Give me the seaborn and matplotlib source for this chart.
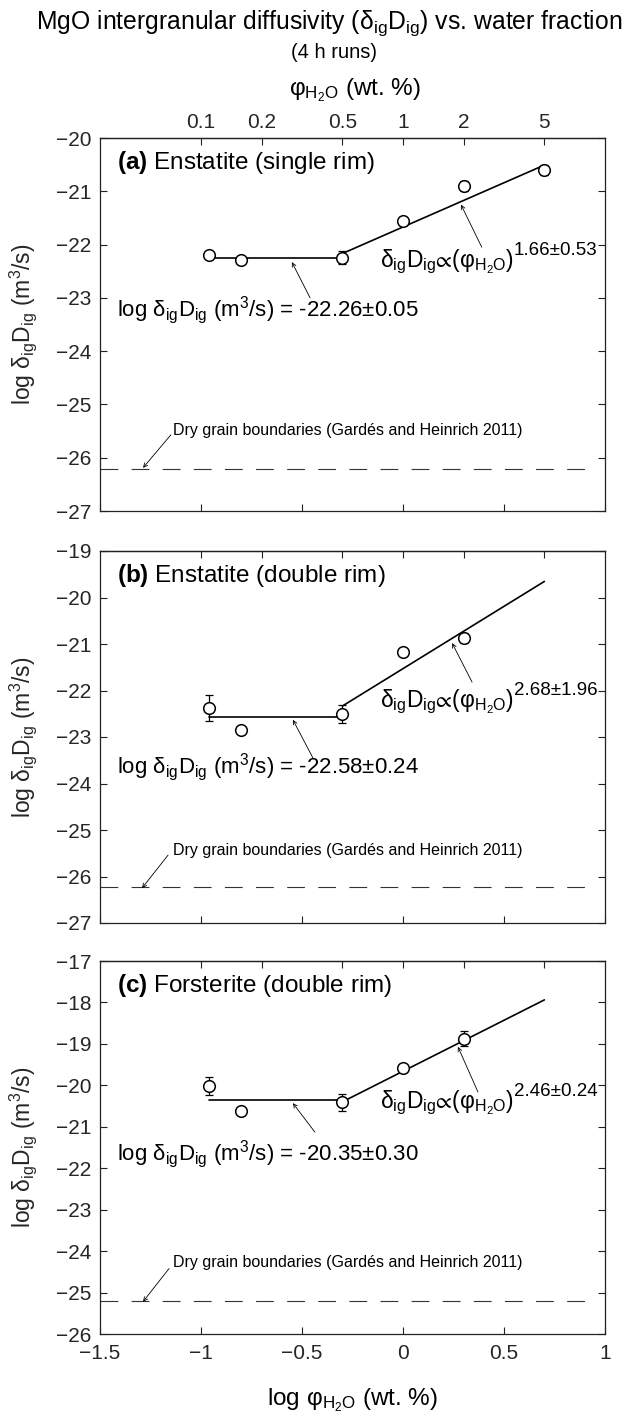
import numpy as np
import pandas as pd
import matplotlib
matplotlib.use("Agg")
import matplotlib.pyplot as plt
import seaborn as sns

# ---------------- data ----------------
phi_log = [-0.96, -0.80, -0.30, 0.00, 0.30, 0.70]          # log wt.% H2O
ens_single = [-22.20, -22.29, -22.25, -21.56, -20.90, -20.60]
ens_single_err = [0.03, 0.03, 0.12, 0.08, 0.10, 0.10]
ens_double = [-22.38, -22.85, -22.51, -21.17, -20.87]
ens_double_err = [0.28, 0.03, 0.19, 0.03, 0.10]
fo_double = [-20.02, -20.62, -20.41, -19.58, -18.88]
fo_double_err = [0.21, 0.03, 0.21, 0.03, 0.18]

plateau = [-22.26, -22.58, -20.35]
plateau_err = ["0.05", "0.24", "0.30"]
plateau_range = [-0.96, -0.30]
slope = ["1.66", "2.68", "2.46"]
slope_val = [1.66, 2.68, 2.46]
slope_err = ["0.53", "1.96", "0.24"]
power_intercept = [-21.67, -21.53, -19.66]
power_range = [-0.30, 0.70]
dry_gb = [-26.22, -26.22, -25.20]

panel_letters = ["(a)", "(b)", "(c)"]
panel_names = ["Enstatite (single rim)", "Enstatite (double rim)", "Forsterite (double rim)"]
y_limits = [(-27, -20), (-27, -19), (-26, -17)]
x_ticks = [-1.5, -1.0, -0.5, 0.0, 0.5, 1.0]
x_tick_labels = ["\u22121.5", "\u22121", "\u22120.5", "0", "0.5", "1"]
top_tick_values = [0.1, 0.2, 0.5, 1, 2, 5]
top_tick_labels = ["0.1", "0.2", "0.5", "1", "2", "5"]

# annotation placement (data coords): (tip, tail)
plateau_arrow = [((-0.55, -22.33), (-0.46, -23.0)),
                 ((-0.545, -22.63), (-0.446, -23.45)),
                 ((-0.545, -20.43), (-0.436, -21.13))]
power_arrow = [((0.287, -21.25), (0.39, -22.05)),
               ((0.243, -20.98), (0.342, -21.82)),
               ((0.272, -19.07), (0.371, -20.16))]
dry_arrow = [((-1.287, -26.19), (-1.149, -25.57)),
             ((-1.292, -26.25), (-1.163, -25.54)),
             ((-1.287, -25.22), (-1.158, -24.42))]
plateau_text_y = [0.523, 0.403, 0.466]
power_text_y = [0.654, 0.581, 0.606]
dry_text_y = [0.217, 0.196, 0.193]

# ---------------- style ----------------
sns.set_theme(style="ticks")
plt.rcParams["font.family"] = ["Liberation Sans", "DejaVu Sans"]
plt.rcParams["mathtext.fontset"] = "custom"
plt.rcParams["mathtext.rm"] = "Liberation Sans"
plt.rcParams["mathtext.it"] = "Liberation Sans:italic"
plt.rcParams["mathtext.bf"] = "Liberation Sans:bold"
plt.rcParams["mathtext.fallback"] = "stixsans"
plt.rcParams["axes.edgecolor"] = "#222222"
plt.rcParams["axes.linewidth"] = 0.9
plt.rcParams["text.color"] = "black"

W, H = 627, 1416
fig = plt.figure(figsize=(W / 100, H / 100), dpi=100)

left = 100 / W
width = 505 / W
tops = [138, 551, 961]
bots = [511, 923, 1334]

series = [(phi_log, ens_single, ens_single_err),
          (phi_log[:5], ens_double, ens_double_err),
          (phi_log[:5], fo_double, fo_double_err)]

DIG = r"$\mathrm{\delta_{ig}D_{ig}}$"
PHI = r"$\mathrm{φ_{H_2O}}$"
TICK = 15

for i in range(3):
    ax = fig.add_axes([left, 1 - bots[i] / H, width, (bots[i] - tops[i]) / H])
    xs, ys, es = series[i]
    df = pd.DataFrame({"x": xs, "y": ys})

    # fit lines
    pl = pd.DataFrame({"x": plateau_range, "y": [plateau[i], plateau[i]]})
    sns.lineplot(data=pl, x="x", y="y", ax=ax, color="black", lw=1.2,
                 estimator=None, sort=False, zorder=1)
    pw_x = np.array(power_range)
    pw = pd.DataFrame({"x": pw_x, "y": power_intercept[i] + slope_val[i] * pw_x})
    sns.lineplot(data=pw, x="x", y="y", ax=ax, color="black", lw=1.2,
                 estimator=None, sort=False, zorder=1)

    ax.errorbar(xs, ys, yerr=es, fmt="none", ecolor="black", elinewidth=0.9,
                capsize=3.0, capthick=0.9, zorder=2)
    sns.scatterplot(data=df, x="x", y="y", ax=ax, marker="o", s=70,
                    facecolor="white", edgecolor="black", linewidth=1.1, zorder=3)

    ax.axhline(dry_gb[i], xmin=0, xmax=0.985, color="#333333", lw=0.8,
               ls=(0, (16, 12)), zorder=1)

    ax.set_xlim(-1.5, 1.0)
    ax.set_ylim(*y_limits[i])
    ax.set_xticks(x_ticks)
    ax.set_yticks(np.arange(y_limits[i][0], y_limits[i][1] + 1))
    ax.set_xticklabels(x_tick_labels)
    ax.tick_params(direction="in", length=5, width=0.8, labelsize=TICK,
                   right=True, top=False, color="#222222")
    ax.tick_params(axis="y", pad=6)
    ax.tick_params(axis="x", pad=7)
    if i < 2:
        ax.tick_params(labelbottom=False)
    ax.set_xlabel("")
    ax.set_ylabel("log " + DIG + r" (m$^{3}$/s)", fontsize=16.5)
    ax.yaxis.set_label_coords(-0.12, 0.5)

    sec = ax.secondary_xaxis("top")
    sec.set_xticks(np.log10(top_tick_values))
    sec.set_xticklabels(top_tick_labels if i == 0 else [])
    sec.tick_params(direction="in", length=5, width=0.8, labelsize=TICK, pad=4,
                    color="#222222")
    sec.spines["top"].set_linewidth(0.9)

    # texts
    ax.text(0.034, 0.935, r"$\mathbf{" + panel_letters[i] + "}$ " + panel_names[i],
            transform=ax.transAxes, fontsize=17.5, va="center", ha="left")
    ax.text(0.034, plateau_text_y[i],
            "log " + DIG + r" (m$^{3}$/s) = " + f"{plateau[i]:.2f}\u00b1{plateau_err[i]}",
            transform=ax.transAxes, fontsize=16, va="baseline", ha="left")
    main = ax.text(0.554, power_text_y[i],
                   r"$\mathrm{\delta_{ig}D_{ig}}$" + r"$\mathrm{∝}$(" + PHI + ")",
                   transform=ax.transAxes, fontsize=16.5, va="baseline", ha="left")
    ax.annotate(slope[i] + "\u00b1" + slope_err[i], xy=(1.0, 0.58), xycoords=main,
                fontsize=13.5, ha="left", va="bottom")
    ax.text(0.145, dry_text_y[i], "Dry grain boundaries (Gard\u00e9s and Heinrich 2011)",
            transform=ax.transAxes, fontsize=11.5, va="center", ha="left")

    arrow = dict(arrowstyle="->", lw=0.6, color="black", shrinkA=0, shrinkB=0,
                 mutation_scale=7)
    for tip, tail in (plateau_arrow[i], power_arrow[i], dry_arrow[i]):
        ax.annotate("", xy=tip, xytext=tail, arrowprops=arrow)

fig.text(329 / W, 1 - 23 / H,
         "MgO intergranular diffusivity (" + DIG + ") vs. water fraction",
         fontsize=17.8, ha="center", va="center")
fig.text(334 / W, 1 - 53 / H, "(4 h runs)", fontsize=14.5, ha="center", va="center")
fig.text(355 / W, 1 - 90 / H, PHI + " (wt. %)", fontsize=17.5, ha="center", va="center")
fig.text(352 / W, 1 - 1400 / H, "log " + PHI + " (wt. %)", fontsize=17.5,
         ha="center", va="center")

fig.savefig("out.png", dpi=100)
